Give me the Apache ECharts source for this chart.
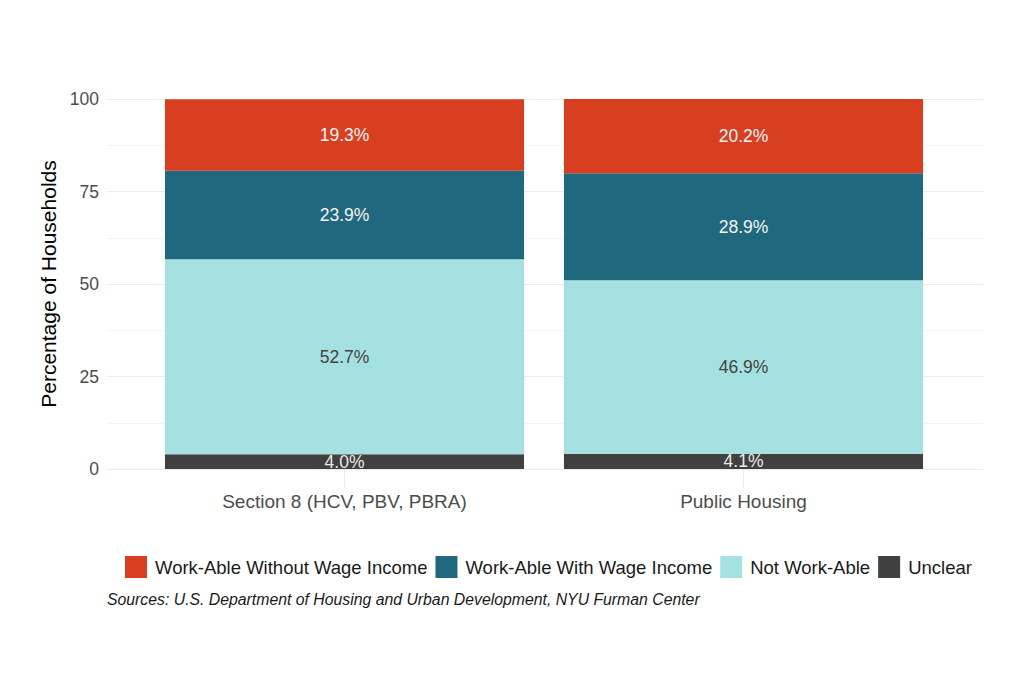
<!DOCTYPE html>
<html>
<head>
<meta charset="utf-8">
<script src="https://cdn.jsdelivr.net/npm/echarts@6/dist/echarts.min.js"></script>
<style>
  html, body { margin: 0; padding: 0; background: #fff; }
  #chart { width: 1024px; height: 683px; }
</style>
</head>
<body>
<div id="chart"></div>
<script>
(function() {
  var categories = ['Section 8 (HCV, PBV, PBRA)', 'Public Housing'];
  var seriesNames = ['Work-Able Without Wage Income', 'Work-Able With Wage Income', 'Not Work-Able', 'Unclear'];
  var unclear = [4.0, 4.1];
  var notWorkAble = [52.7, 46.9];
  var withWage = [23.9, 28.9];
  var withoutWage = [19.3, 20.2];
  var yTicks = [0, 25, 50, 75, 100];

  var colors = {
    'Work-Able Without Wage Income': '#d83f21',
    'Work-Able With Wage Income': '#20687d',
    'Not Work-Able': '#a6e1e1',
    'Unclear': '#404040'
  };
  var labelColors = {
    'Work-Able Without Wage Income': '#f4f4f4',
    'Work-Able With Wage Income': '#f4f4f4',
    'Not Work-Able': '#444444',
    'Unclear': '#e8e8e8'
  };
  var font = 'Liberation Sans, Arial, sans-serif';

  var chart = echarts.init(document.getElementById('chart'), null, { renderer: 'svg' });

  function bar(name, data) {
    return {
      name: name,
      type: 'bar',
      stack: 'total',
      xAxisIndex: 0,
      yAxisIndex: 0,
      barWidth: '90%',
      data: data,
      itemStyle: { color: colors[name] },
      label: {
        show: true,
        position: 'inside',
        formatter: function(p) { return p.value.toFixed(1) + '%'; },
        color: labelColors[name],
        fontSize: 17.5,
        fontFamily: font
      },
      emphasis: { disabled: true },
      animation: false
    };
  }

  // stack order bottom to top
  var series = [
    bar('Unclear', unclear),
    bar('Not Work-Able', notWorkAble),
    bar('Work-Able With Wage Income', withWage),
    bar('Work-Able Without Wage Income', withoutWage)
  ];

  chart.setOption({
    backgroundColor: '#fff',
    grid: [
      { left: 145, right: 81, top: 99, bottom: 214 },
      { left: 107, right: 41, top: 99, bottom: 214 }
    ],
    legend: {
      data: seriesNames,
      left: 120,
      top: 551,
      itemWidth: 22,
      itemHeight: 22,
      itemGap: 8,
      icon: 'rect',
      textStyle: { color: '#1a1a1a', fontSize: 18.5, fontFamily: font, padding: [0, 0, 0, 3] }
    },
    title: {
      text: 'Sources: U.S. Department of Housing and Urban Development, NYU Furman Center',
      left: 102,
      top: 586,
      textStyle: { color: '#1a1a1a', fontSize: 15.8, fontStyle: 'italic', fontWeight: 'normal', fontFamily: font }
    },
    xAxis: [
      {
        type: 'category',
        gridIndex: 0,
        data: categories,
        axisLine: { show: false },
        axisTick: { show: true, alignWithLabel: true, length: 18, lineStyle: { color: '#ebebeb' } },
        axisLabel: { color: '#4d4d4d', fontSize: 19, fontFamily: font, margin: 23 },
        splitLine: { show: false }
      },
      {
        type: 'value',
        gridIndex: 1,
        show: false
      }
    ],
    yAxis: [
      {
        type: 'value',
        gridIndex: 0,
        min: 0,
        max: 100,
        show: false
      },
      {
        type: 'value',
        gridIndex: 1,
        min: 0,
        max: 100,
        interval: 12.5,
        name: 'Percentage of Households',
        nameLocation: 'middle',
        nameGap: 44,
        nameTextStyle: { color: '#000', fontSize: 21, fontFamily: font },
        axisLine: { show: false },
        axisTick: { show: false },
        axisLabel: {
          color: '#4d4d4d',
          fontSize: 17.5,
          fontFamily: font,
          margin: 8,
          formatter: function(v) { return yTicks.indexOf(v) >= 0 ? String(v) : ''; }
        },
        splitLine: { show: true, lineStyle: { color: ['#ebebeb', '#f4f4f4'], width: 1 } }
      }
    ],
    series: series
  });

  window.addEventListener('resize', function() { chart.resize(); });
})();
</script>
</body>
</html>
